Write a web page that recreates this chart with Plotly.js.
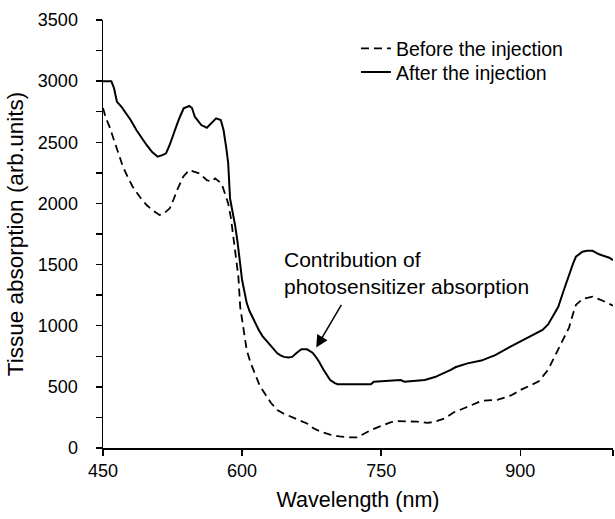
<!DOCTYPE html>
<html>
<head>
<meta charset="utf-8">
<script src="https://cdn.plot.ly/plotly-3.0.1.min.js"></script>
<style>html,body{margin:0;padding:0;background:#fff;}#chart{width:615px;height:519px;}</style>
</head>
<body>
<div id="chart"></div>
<script>
// Data
var afterX = [450,459,462,465,470,475,480,486,492,497,503,509,514,518,522,526,530,533,537,543,546,549,553,556,562,567,572,577,580,583,585,587,590,592.5,595,598,600,603,605,608,611,614,618,622,627,632,638,641,645,650,654,659,664,670,676,680,683,688,692,695,700,703,720,739,742,755,771,775,785,797,808,818,825,830,843,858,873,891,909,924,930,934.5,941,947,953,957,960,967,972,978,985,996,1000];
var afterY = [3000,3000,2940,2832,2790,2737,2680,2600,2530,2478,2420,2382,2395,2410,2480,2573,2650,2709,2778,2797,2780,2709,2670,2641,2619,2655,2696,2682,2600,2450,2330,2040,1930,1820,1690,1520,1374,1260,1185,1120,1074,1020,965,915,869,820,774,760,745,740,745,779,807,807,779,740,706,638,590,556,530,521,521,521,542,548,556,542,548,556,580,611,638,660,692,715,760,836,910,965,1010,1074,1155,1292,1428,1510,1564,1605,1613,1613,1584,1556,1535];

var beforeX = [450,453,457,464,471.5,477,482,490,497,504,511,516,522,526,530,536.5,543,548,554,562,567,571,575,578,583.5,585,588,591,594,596,598,601.5,605,609,614,619,625,631,638,645,650,661,670,677,686,695,705,716,724,731,740,750,760,768,778,789,800,808,818,828,840,850,858,876,890,901,912,920,930,936,941.5,947,952.6,957,960,967,978,989,1000];
var beforeY = [2780,2700,2628,2464,2300,2210,2137,2050,1987,1940,1905,1920,1960,2030,2110,2219,2273,2260,2246,2190,2178,2205,2180,2160,2035,2000,1880,1700,1540,1400,1150,975,800,700,600,510,440,370,311,280,265,229,200,161,130,110,95,88,87,115,150,180,210,220,218,215,205,215,240,290,327,360,385,395,430,477,515,545,640,730,820,900,985,1100,1170,1218,1237,1204,1164];

var seriesNames = ['Before the injection', 'After the injection'];
var xTickVals = [450, 600, 750, 900, 1000];
var xTickText = ['450', '600', '750', '900', ''];
var yTickVals = [0, 500, 1000, 1500, 2000, 2500, 3000, 3500];
var annoText = 'Contribution of<br>photosensitizer absorption';
var arrowTip = [680, 822];
var arrowTail = [708, 1183];
var annoPos = [643, 1430];

var FONT = 'Liberation Sans, Arial, Helvetica, sans-serif';

var traces = [
  {x: beforeX, y: beforeY, type: 'scatter', mode: 'lines', name: seriesNames[0],
   line: {color: '#000', width: 1.8, dash: '8px,5px'}, legend: 'legend'},
  {x: afterX, y: afterY, type: 'scatter', mode: 'lines', name: seriesNames[1],
   line: {color: '#000', width: 2}, legend: 'legend2'}
];

var legendCommon = {
  xanchor: 'left', yanchor: 'middle', bgcolor: 'rgba(0,0,0,0)', borderwidth: 0,
  font: {family: FONT, size: 19.5, color: '#000'}, itemwidth: 30
};

var layout = {
  width: 615, height: 519,
  margin: {l: 103, r: 2, t: 20, b: 71},
  paper_bgcolor: '#fff', plot_bgcolor: '#fff',
  font: {family: FONT, color: '#000'},
  showlegend: true,
  legend: Object.assign({x: 0.496, y: 0.933}, legendCommon),
  legend2: Object.assign({x: 0.496, y: 0.878}, legendCommon),
  xaxis: {
    range: [450, 1000], showline: true, linecolor: '#000', linewidth: 1.5,
    showgrid: false, zeroline: false, ticks: 'outside', ticklen: 6, tickwidth: 1.5, tickcolor: '#000',
    tickmode: 'array', tickvals: xTickVals, ticktext: xTickText,
    tickfont: {family: FONT, size: 18, color: '#000'},
    title: {text: 'Wavelength (nm)', font: {family: FONT, size: 21.5, color: '#000'}, standoff: 12}
  },
  yaxis: {
    range: [0, 3500], showline: true, linecolor: '#000', linewidth: 1.5,
    showgrid: false, zeroline: false, ticks: 'outside', ticklen: 6, tickwidth: 1.5, tickcolor: '#000',
    tickmode: 'array', tickvals: yTickVals,
    ticklabelstandoff: 14,
    minor: {dtick: 250, ticks: 'outside', ticklen: 6, tickwidth: 1.5, tickcolor: '#000', showgrid: false},
    tickfont: {family: FONT, size: 18, color: '#000'},
    title: {text: 'Tissue absorption (arb.units)', font: {family: FONT, size: 22.5, color: '#000'}, standoff: 8}
  },
  annotations: [
    {x: annoPos[0], y: annoPos[1], xref: 'x', yref: 'y', text: annoText, showarrow: false,
     xanchor: 'left', yanchor: 'middle', align: 'left',
     font: {family: FONT, size: 21, color: '#000'}},
    {x: arrowTip[0], y: arrowTip[1], xref: 'x', yref: 'y', ax: arrowTail[0], ay: arrowTail[1],
     axref: 'x', ayref: 'y', text: '', showarrow: true, arrowhead: 2, arrowsize: 1.6,
     arrowwidth: 1.5, arrowcolor: '#000'}
  ]
};

Plotly.newPlot('chart', traces, layout, {staticPlot: true, displayModeBar: false});
</script>
</body>
</html>
